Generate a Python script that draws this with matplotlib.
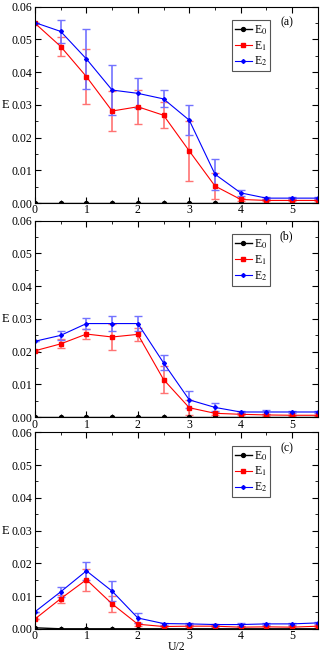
import matplotlib
matplotlib.use("Agg")
import matplotlib.pyplot as plt
from matplotlib.ticker import MultipleLocator, FormatStrFormatter

plt.rcParams['font.family'] = ['Liberation Serif', 'DejaVu Serif']
plt.rcParams['mathtext.fontset'] = 'stix'

x = [0, 0.5, 1, 1.5, 2, 2.5, 3, 3.5, 4, 4.5, 5, 5.5]
labels = ['(a)', '(b)', '(c)']

# Panel (a)
a_E0 = [0]*12
a_E1 = [0.0549, 0.0478, 0.0386, 0.0281, 0.0294, 0.0268, 0.0159, 0.0052, 0.0011, 0.0008, 0.0008, 0.0008]
a_E1err = [0.0, 0.0028, 0.0085, 0.0060, 0.0052, 0.0040, 0.0092, 0.0040, 0.0005, 0.0003, 0.0003, 0.0003]
a_E2 = [0.0551, 0.0524, 0.0440, 0.0345, 0.0335, 0.0318, 0.0253, 0.0088, 0.0031, 0.0015, 0.0015, 0.0015]
a_E2err = [0.0, 0.0034, 0.0092, 0.0077, 0.0046, 0.0026, 0.0045, 0.0047, 0.0010, 0.0003, 0.0003, 0.0003]

# Panel (b)
b_E0 = [0]*12
b_E1 = [0.0203, 0.0224, 0.0254, 0.0245, 0.0253, 0.0115, 0.0029, 0.0012, 0.0009, 0.0007, 0.0006, 0.0006]
b_E1err = [0.0, 0.0014, 0.0014, 0.0040, 0.0020, 0.0042, 0.0023, 0.0005, 0.0003, 0.0003, 0.0002, 0.0002]
b_E2 = [0.0232, 0.0250, 0.0286, 0.0286, 0.0286, 0.0166, 0.0053, 0.0030, 0.0016, 0.0016, 0.0016, 0.0016]
b_E2err = [0.0, 0.0014, 0.0018, 0.0024, 0.0022, 0.0023, 0.0026, 0.0012, 0.0003, 0.0005, 0.0003, 0.0003]

# Panel (c)
c_E0 = [0.0003, 0, 0, 0, 0, 0, 0, 0, 0, 0, 0, 0]
c_E1 = [0.0030, 0.0092, 0.0150, 0.0076, 0.0014, 0.0007, 0.0008, 0.0008, 0.0005, 0.0006, 0.0005, 0.0008]
c_E1err = [0.0, 0.0012, 0.0034, 0.0025, 0.0005, 0.0003, 0.0003, 0.0003, 0.0003, 0.0003, 0.0003, 0.0003]
c_E2 = [0.0052, 0.0113, 0.0177, 0.0115, 0.0033, 0.0016, 0.0015, 0.0013, 0.0013, 0.0015, 0.0015, 0.0018]
c_E2err = [0.0, 0.0016, 0.0028, 0.0030, 0.0015, 0.0003, 0.0003, 0.0003, 0.0004, 0.0004, 0.0004, 0.0004]

panels = [
    (a_E0, a_E1, a_E1err, a_E2, a_E2err),
    (b_E0, b_E1, b_E1err, b_E2, b_E2err),
    (c_E0, c_E1, c_E1err, c_E2, c_E2err),
]

fig = plt.figure(figsize=(3.27, 6.55), dpi=100)
left, width, height = 0.107, 0.865, 0.300
bottoms = [0.690, 0.363, 0.040]

for i, (E0, E1, E1e, E2, E2e) in enumerate(panels):
    ax = fig.add_axes([left, bottoms[i], width, height])
    ax.errorbar(x, E1, yerr=E1e, fmt='none', ecolor=(1, 0.45, 0.45), elinewidth=1.2, capsize=3, capthick=1.0)
    ax.errorbar(x, E2, yerr=E2e, fmt='none', ecolor=(0.45, 0.45, 1), elinewidth=1.2, capsize=3, capthick=1.0)
    ax.plot(x, E0, '-o', color='black', ms=2.8, lw=1.0, label=r'E$_0$')
    ax.plot(x, E1, '-s', color='red', ms=2.8, lw=0.8, label=r'E$_1$')
    ax.plot(x, E2, '-D', color='blue', ms=2.0, lw=0.8, label=r'E$_2$')
    ax.set_xlim(0, 5.5)
    ax.set_ylim(0, 0.06)
    ax.xaxis.set_major_locator(MultipleLocator(1))
    ax.xaxis.set_minor_locator(MultipleLocator(0.5))
    ax.yaxis.set_major_locator(MultipleLocator(0.01))
    ax.yaxis.set_minor_locator(MultipleLocator(0.005))
    ax.yaxis.set_major_formatter(FormatStrFormatter('%.2f'))
    ax.tick_params(which='both', direction='in', top=True, right=True, labelsize=8.5)
    ax.tick_params(axis='x', pad=1)
    ax.tick_params(axis='y', pad=2)
    ax.tick_params(which='major', length=4)
    ax.tick_params(which='minor', length=2)
    for s in ax.spines.values():
        s.set_linewidth(0.8)
    ax.text(-0.105, 0.5, 'E', transform=ax.transAxes, fontsize=9, ha='center', va='center')
    ax.text(0.89, 0.92, labels[i], transform=ax.transAxes, fontsize=8.5, ha='center', va='center')
    leg = ax.legend(loc='upper left', bbox_to_anchor=(0.695, 0.93), fontsize=8.5, handlelength=1.5,
                    handletextpad=0.15, borderpad=0.25, labelspacing=0.2, fancybox=False,
                    borderaxespad=0, framealpha=1)
    leg.get_frame().set_edgecolor('#555555')
    leg.get_frame().set_linewidth(0.8)
    if i == 2:
        ax.set_xlabel('U/2', fontsize=8.5, labelpad=-1)

fig.savefig('out.png', dpi=100)
